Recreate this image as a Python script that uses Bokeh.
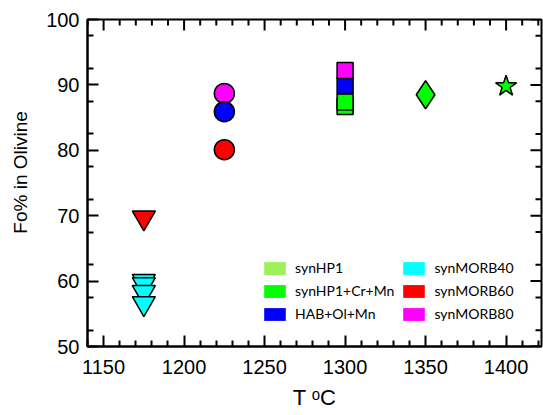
from bokeh.plotting import figure
from bokeh.models import Range1d, LinearAxis, FixedTicker, Legend, LegendItem
from bokeh.embed import file_html
from bokeh.resources import INLINE

# ---- data ----
series_names = ["synHP1", "synHP1+Cr+Mn", "HAB+Ol+Mn", "synMORB40", "synMORB60", "synMORB80"]
series_colors = ["#9cf05a", "#00ff00", "#0000ff", "#00ffff", "#ff0000", "#ff00ff"]

# synMORB40 (inverted triangles)
morb40_T = [1175, 1175, 1175, 1175]
morb40_Fo = [60.0, 59.5, 58.3, 56.6]
# synMORB60 inverted triangle
morb60_tri_T = [1175]
morb60_tri_Fo = [69.7]
# circles at 1225
circ_T = [1225, 1225, 1225]
circ_Fo = [88.7, 85.9, 80.1]
circ_series = ["synMORB80", "HAB+Ol+Mn", "synMORB60"]
# squares at 1300
sq_T = [1300, 1300, 1300, 1300]
sq_Fo = [86.7, 87.4, 89.9, 92.2]
sq_series = ["synHP1+Cr+Mn", "synHP1+Cr+Mn", "HAB+Ol+Mn", "synMORB80"]
# diamond and star
dia_T = [1350]
dia_Fo = [88.5]
star_T = [1400]
star_Fo = [89.8]

x_ticks = [1150, 1200, 1250, 1300, 1350, 1400]
x_minor = [t for t in range(1140, 1430, 10) if t not in x_ticks]
y_ticks = [50, 60, 70, 80, 90, 100]
y_minor = [52.5, 57.5, 62.5, 67.5, 72.5, 77.5, 82.5, 87.5, 92.5, 97.5]

X0, X1 = 1140, 1422
Y0, Y1 = 50, 100

cmap = dict(zip(series_names, series_colors))

W, H = 543, 415
BL, BT, BR, BB = 87, 19, 2, 69
p = figure(width=W, height=H, output_backend="svg", toolbar_location=None,
           x_range=Range1d(X0, X1), y_range=Range1d(Y0, Y1),
           min_border_left=BL, min_border_top=BT, min_border_right=BR, min_border_bottom=BB,
           x_axis_location=None, y_axis_location=None)
p.grid.visible = False
p.outline_line_color = "black"
p.outline_line_width = 2
p.background_fill_color = "white"

FONT = "Liberation Sans"
MAJ, MIN = 11, 6

def make_axis(kind):
    ax = LinearAxis()
    if kind == "x":
        ax.ticker = FixedTicker(ticks=x_ticks, minor_ticks=x_minor)
    else:
        ax.ticker = FixedTicker(ticks=y_ticks, minor_ticks=y_minor)
    ax.axis_line_width = 2
    ax.axis_line_color = "black"
    ax.major_tick_line_width = 2
    ax.minor_tick_line_width = 2
    ax.major_tick_in = MAJ
    ax.major_tick_out = 0
    ax.minor_tick_in = MIN
    ax.minor_tick_out = 0
    ax.major_label_text_font = FONT
    ax.major_label_text_color = "black"
    ax.major_label_text_font_size = "20px"
    ax.axis_label_text_font = FONT
    ax.axis_label_text_font_style = "normal"
    ax.axis_label_text_color = "black"
    return ax

xb = make_axis("x")
xb.major_label_standoff = 13
xb.axis_label = "T ᵒC"
xb.axis_label_text_font_size = "22px"
xb.axis_label_standoff = 8
p.add_layout(xb, "below")

yl = make_axis("y")
yl.major_label_standoff = 8
yl.axis_label = "\u00a0\u00a0\u00a0\u00a0Fo% in Olivine"
yl.axis_label_text_font_size = "19px"
yl.axis_label_standoff = 12
p.add_layout(yl, "left")

# mirrored inward ticks on the top and right frame edges
frame_w = W - BL - BR
frame_h = H - BT - BB
ux = (X1 - X0) / frame_w   # data units per pixel
uy = (Y1 - Y0) / frame_h
p.segment(x0=x_ticks, x1=x_ticks, y0=[Y1] * len(x_ticks), y1=[Y1 - MAJ * uy] * len(x_ticks),
          line_color="black", line_width=2)
p.segment(x0=x_minor, x1=x_minor, y0=[Y1] * len(x_minor), y1=[Y1 - MIN * uy] * len(x_minor),
          line_color="black", line_width=2)
p.segment(x0=[X1] * len(y_ticks), x1=[X1 - MAJ * ux] * len(y_ticks), y0=y_ticks, y1=y_ticks,
          line_color="black", line_width=2)
p.segment(x0=[X1] * len(y_minor), x1=[X1 - MIN * ux] * len(y_minor), y0=y_minor, y1=y_minor,
          line_color="black", line_width=2)

LW = 1.5
p.scatter(morb40_T, morb40_Fo, marker="inverted_triangle", size=23,
          fill_color=cmap["synMORB40"], line_color="black", line_width=LW)
p.scatter(morb60_tri_T, morb60_tri_Fo, marker="inverted_triangle", size=23,
          fill_color=cmap["synMORB60"], line_color="black", line_width=LW)
p.scatter(circ_T, circ_Fo, marker="circle", size=20,
          fill_color=[cmap[s] for s in circ_series], line_color="black", line_width=LW)
p.scatter(sq_T, sq_Fo, marker="square", size=16,
          fill_color=[cmap[s] for s in sq_series], line_color="black", line_width=LW)
p.scatter(dia_T, dia_Fo, marker="diamond", size=28,
          fill_color=cmap["synHP1+Cr+Mn"], line_color="black", line_width=LW)
p.scatter(star_T, star_Fo, marker="star", size=22,
          fill_color=cmap["synHP1+Cr+Mn"], line_color="black", line_width=LW)

# legend with rectangular patches (proxy quads placed outside the visible range)
items = []
for name, col in zip(series_names, series_colors):
    r = p.quad(left=[X0 - 100], right=[X0 - 90], top=[Y0 - 10], bottom=[Y0 - 20],
               fill_color=col, line_color=None)
    items.append(LegendItem(label=name, renderers=[r]))

legend = Legend(items=items, location=(174, 24), nrows=3,
                glyph_width=27, glyph_height=16, label_standoff=7,
                spacing=6, padding=0, margin=0,
                label_text_font="Lato", label_text_font_size="14px",
                label_text_color="black", label_height=16,
                border_line_color=None, background_fill_alpha=0)
p.add_layout(legend, "center")

open("out.html", "w").write(file_html(p, INLINE))
